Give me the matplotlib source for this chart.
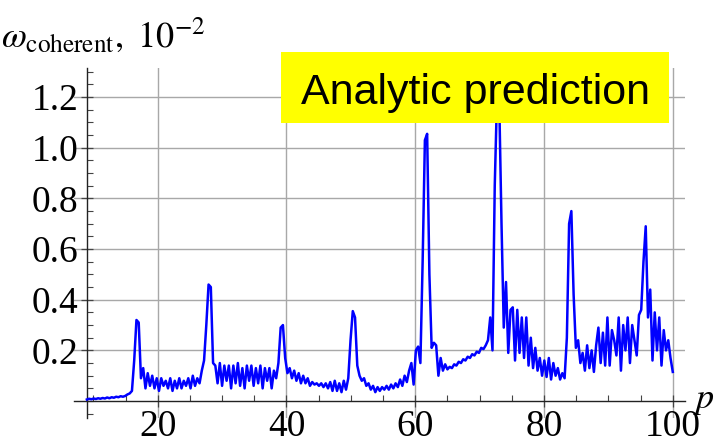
import numpy as np
import matplotlib
matplotlib.use('Agg')
import matplotlib.pyplot as plt
from matplotlib.ticker import MultipleLocator, FixedLocator
from matplotlib.patches import Rectangle

plt.rcParams['mathtext.fontset'] = 'stix'

# momentum grid, 9 .. 100 in steps of 0.35
p = np.linspace(9, 100, 261)

# coherent rate, in units of 1e-2
omega = [
    0.006, 0.009, 0.007, 0.010, 0.008, 0.011, 0.009, 0.012, 0.010, 0.014,
    0.011, 0.015, 0.013, 0.017, 0.015, 0.019, 0.017, 0.020, 0.026, 0.030,
    0.040, 0.16, 0.32, 0.31, 0.09, 0.13, 0.05, 0.11, 0.06, 0.10,
    0.05, 0.09, 0.04, 0.09, 0.06, 0.08, 0.05, 0.09, 0.04, 0.08,
    0.05, 0.09, 0.05, 0.08, 0.06, 0.09, 0.05, 0.10, 0.06, 0.09,
    0.07, 0.12, 0.16, 0.30, 0.46, 0.45, 0.15, 0.14, 0.07, 0.15,
    0.06, 0.14, 0.08, 0.14, 0.05, 0.14, 0.07, 0.15, 0.06, 0.13,
    0.05, 0.14, 0.08, 0.14, 0.06, 0.13, 0.07, 0.14, 0.05, 0.13,
    0.08, 0.13, 0.05, 0.12, 0.09, 0.15, 0.29, 0.30, 0.17, 0.11,
    0.13, 0.09, 0.12, 0.08, 0.11, 0.07, 0.10, 0.07, 0.09, 0.06,
    0.075, 0.065, 0.07, 0.06, 0.07, 0.055, 0.07, 0.05, 0.075, 0.04,
    0.08, 0.04, 0.07, 0.035, 0.08, 0.045, 0.09, 0.24, 0.355, 0.33,
    0.14, 0.10, 0.08, 0.09, 0.06, 0.07, 0.045, 0.06, 0.035, 0.055,
    0.04, 0.055, 0.045, 0.06, 0.045, 0.065, 0.05, 0.07, 0.055, 0.085,
    0.06, 0.10, 0.075, 0.12, 0.15, 0.065, 0.20, 0.215, 0.15, 0.55,
    1.03, 1.055, 0.50, 0.21, 0.23, 0.22, 0.10, 0.17, 0.12, 0.145,
    0.125, 0.135, 0.13, 0.145, 0.14, 0.155, 0.15, 0.165, 0.16, 0.175,
    0.17, 0.185, 0.18, 0.195, 0.19, 0.21, 0.205, 0.22, 0.24, 0.33,
    0.20, 0.85, 1.20, 1.18, 0.70, 0.29, 0.47, 0.19, 0.36, 0.37,
    0.16, 0.36, 0.19, 0.33, 0.17, 0.33, 0.14, 0.25, 0.13, 0.21,
    0.12, 0.17, 0.10, 0.16, 0.095, 0.17, 0.085, 0.15, 0.10, 0.13,
    0.085, 0.11, 0.09, 0.25, 0.70, 0.75, 0.42, 0.21, 0.24, 0.15,
    0.19, 0.12, 0.22, 0.13, 0.20, 0.115, 0.22, 0.29, 0.15, 0.27,
    0.14, 0.33, 0.14, 0.28, 0.24, 0.18, 0.33, 0.12, 0.30, 0.20,
    0.33, 0.15, 0.30, 0.24, 0.18, 0.34, 0.36, 0.55, 0.69, 0.33,
    0.44, 0.16, 0.35, 0.20, 0.33, 0.14, 0.28, 0.20, 0.24, 0.17, 0.115,
]

x_ticks = [20, 40, 60, 80, 100]
y_ticks = [0.2, 0.4, 0.6, 0.8, 1.0, 1.2]
y_tick_labels = ['0.2', '0.4', '0.6', '0.8', '1.0', '1.2']

W, H = 714, 446
fig = plt.figure(figsize=(W / 100, H / 100), dpi=100)
ax = fig.add_axes([74 / W, 1 - 418 / H, (685 - 74) / W, (418 - 68) / H])

ax.plot(p, omega, color='#0000ff', lw=1.8, zorder=3)

ax.set_xlim(7, 101.9)
ax.set_ylim(-0.067, 1.315)

# axes cross at (9, 0)
for s in ['top', 'right']:
    ax.spines[s].set_visible(False)
ax.spines['left'].set_position(('data', 9))
ax.spines['bottom'].set_position(('data', 0))
for s in ['left', 'bottom']:
    ax.spines[s].set_linewidth(1.0)
    ax.spines[s].set_color('#222222')

ax.xaxis.set_major_locator(FixedLocator(x_ticks))
ax.xaxis.set_minor_locator(MultipleLocator(5))
ax.set_yticks(y_ticks)
ax.set_yticklabels(y_tick_labels)
ax.yaxis.set_minor_locator(MultipleLocator(0.05))

ax.tick_params(which='major', direction='inout', length=8, width=0.9,
               color='#444444', labelsize=27, pad=2)
ax.tick_params(which='minor', direction='in', length=4, width=0.8,
               color='#444444')
for lab in ax.get_xticklabels() + ax.get_yticklabels():
    lab.set_fontfamily('Liberation Serif')

ax.grid(True, which='major', color='#a8a8a8', lw=1.0)
ax.set_axisbelow(True)

# axis labels at the ends of the axes
fig.text(1 / W, 1 - 47 / H, r'$\omega_{\mathrm{coherent}},\ 10^{-2}$',
         fontsize=26, ha='left', va='baseline')
fig.text(693 / W, 1 - 408 / H, r'$p$', fontsize=26,
         ha='left', va='baseline')

# label box
fig.add_artist(Rectangle((281 / W, 1 - 123 / H), (669 - 281) / W, 71 / H,
                         transform=fig.transFigure, facecolor='#ffff00',
                         edgecolor='none', zorder=5))
fig.text(301 / W, 1 - 104 / H, 'Analytic prediction', fontsize=31,
         fontfamily='Liberation Sans', color='black',
         ha='left', va='baseline', zorder=6)

fig.savefig('out.png', dpi=100)
plt.close(fig)
